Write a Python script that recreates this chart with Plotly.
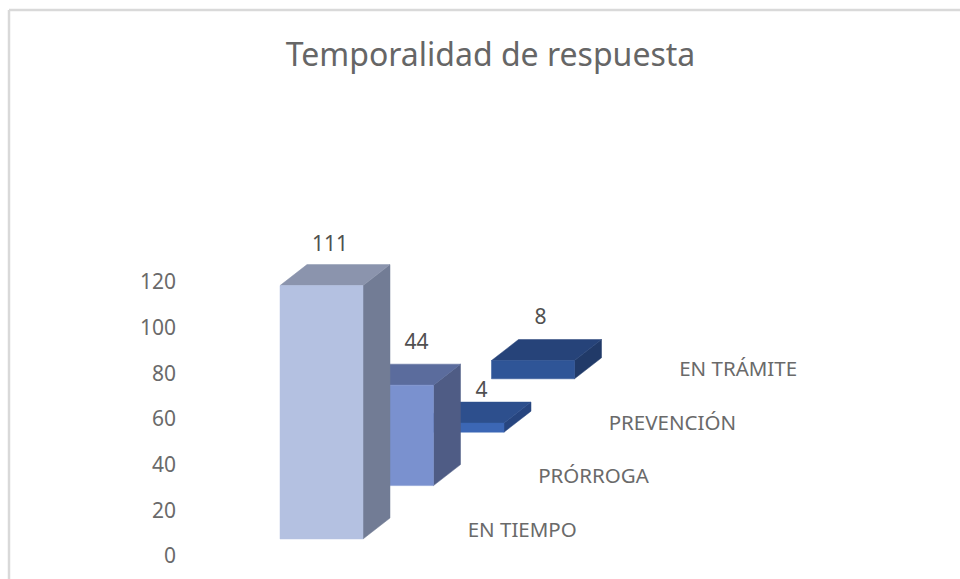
import plotly.graph_objects as go

# Data
title_text = "Temporalidad de respuesta"
categories = ["EN TIEMPO", "PRÓRROGA", "PREVENCIÓN", "EN TRÁMITE"]
values = [111, 44, 4, 8]
y_ticks = [0, 20, 40, 60, 80, 100, 120]

# Colours (front, side, top) per category
front_colors = ["#b4c1e1", "#7a91cf", "#3c67b5", "#2f5597"]
side_colors = ["#727c95", "#4f5c85", "#27457f", "#213a68"]
top_colors = ["#8b94ad", "#5b6c9d", "#2d4f8d", "#264379"]

# Geometry of the oblique projection, in axis units
W, H = 960, 579
LEFT = 178
PX_PER_UNIT = 2.283        # px per value unit
ZERO_PX = 555              # pixel row of value 0
STEP_PX = 70.5             # px per category step (x axis unit)
ORIGIN_PX = 280            # pixel column of x = 0
BAR_W = 83 / STEP_PX
DEPTH_X = 27 / STEP_PX
DEPTH_Y = 21 / PX_PER_UNIT
BASE0 = 16 / PX_PER_UNIT
BASE_STEP = 53.4 / PX_PER_UNIT
LABEL_X = 187.7 / STEP_PX
LABEL_Y = 23.5 / PX_PER_UNIT
# label nudges in px relative to front-face top centre (Excel manual layout)
VALUE_NUDGE = [(8.5, 40), (24.5, 41.5), (19, 31), (7.5, 42)]

fig = go.Figure()


def face(xs, ys, color):
    fig.add_trace(go.Scatter(
        x=xs + xs[:1], y=ys + ys[:1], mode="lines", fill="toself",
        fillcolor=color, line=dict(color=color, width=0.5),
        hoverinfo="skip", showlegend=False,
    ))


# draw back to front
for i in reversed(range(len(values))):
    v = values[i]
    x0 = i
    x1 = i + BAR_W
    b = BASE0 + BASE_STEP * i
    t = b + v
    face([x1, x1 + DEPTH_X, x1 + DEPTH_X, x1],
         [b, b + DEPTH_Y, t + DEPTH_Y, t], side_colors[i])
    face([x0, x1, x1 + DEPTH_X, x0 + DEPTH_X],
         [t, t, t + DEPTH_Y, t + DEPTH_Y], top_colors[i])
    face([x0, x1, x1, x0], [b, b, t, t], front_colors[i])

# Value labels
fig.add_trace(go.Scatter(
    x=[i + BAR_W / 2 + VALUE_NUDGE[i][0] / STEP_PX for i in range(len(values))],
    y=[BASE0 + BASE_STEP * i + values[i] + VALUE_NUDGE[i][1] / PX_PER_UNIT for i in range(len(values))],
    mode="text", text=[str(v) for v in values], textposition="middle center",
    textfont=dict(family="Noto Sans", size=21, color="#505050"),
    hoverinfo="skip", showlegend=False,
))

# Category labels
fig.add_trace(go.Scatter(
    x=[i + LABEL_X for i in range(len(categories))],
    y=[BASE0 + BASE_STEP * i - 16 / PX_PER_UNIT + LABEL_Y for i in range(len(categories))],
    mode="text", text=categories, textposition="middle right",
    textfont=dict(family="Noto Sans", size=20.5, color="#6a6a6a"),
    hoverinfo="skip", showlegend=False,
))

fig.update_layout(
    width=W, height=H, autosize=False,
    margin=dict(l=LEFT, r=0, t=0, b=0),
    paper_bgcolor="white", plot_bgcolor="white",
    title=dict(text=title_text, x=490.5 / W, xanchor="center", xref="container",
               y=1 - 55 / H, yanchor="middle", yref="container",
               font=dict(family="Noto Sans", size=32, color="#666666")),
    xaxis=dict(visible=False,
               range=[(LEFT - ORIGIN_PX) / STEP_PX, (W - ORIGIN_PX) / STEP_PX]),
    yaxis=dict(range=[(ZERO_PX - H) / PX_PER_UNIT, ZERO_PX / PX_PER_UNIT],
               tickvals=y_ticks, showgrid=False, zeroline=False, showline=False,
               ticks="", ticklen=0, ticklabelshift=1, ticklabelstandoff=1,
               tickfont=dict(family="Noto Sans", size=21, color="#6a6a6a")),
    shapes=[
        dict(type="line", xref="paper", yref="paper",
             x0=(9 - LEFT) / (W - LEFT), x1=1, y0=1 - 10 / H, y1=1 - 10 / H,
             line=dict(color="#d9d9d9", width=2.5)),
        dict(type="line", xref="paper", yref="paper",
             x0=(9 - LEFT) / (W - LEFT), x1=(9 - LEFT) / (W - LEFT), y0=0, y1=1 - 10 / H,
             line=dict(color="#d9d9d9", width=2.5)),
    ],
)

fig.write_html(
    "out.html",
    config={"displayModeBar": False},
    post_script="document.body.style.margin='0';document.body.style.overflow='hidden';",
)
